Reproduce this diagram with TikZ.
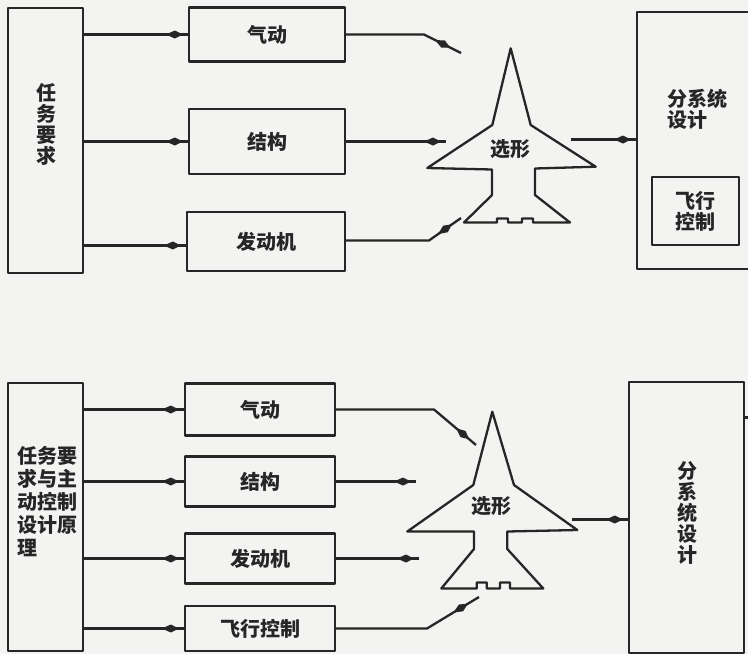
\documentclass[tikz,border=0pt]{standalone}
\usepackage{fontspec}
\newfontfamily\cjk{Noto Sans CJK SC}
\usetikzlibrary{decorations.markings}
\definecolor{inkc}{HTML}{262626}
\definecolor{paper}{HTML}{F3F3F1}

\tikzset{
  ink/.style={draw=inkc, line width=2.3pt, line join=round},
  lbl/.style={inner sep=0pt, text=inkc, font=\cjk\bfseries\fontsize{20}{21}\selectfont},
  blk/.style={ink, rectangle, lbl},
  flowto/.style={ink, postaction={decorate},
    decoration={markings, mark=at position #1 with
      {\fill[inkc] (-17pt,0pt) -- (-8pt,4pt) -- (0pt,0pt) -- (-8pt,-4pt) -- cycle;}}},
  flowto/.default=-5pt,
}

\begin{document}
\begin{tikzpicture}[x=1pt,y=-1pt]
\useasboundingbox (0,0) rectangle (748,654);
\fill[paper] (0,0) rectangle (748,654);
\clip (0,0) rectangle (748,654);

% ---------------- upper scheme ----------------
\node[blk, minimum width=75pt, minimum height=265pt] (req1) at (45.5,140.5) {};
\node[lbl, align=center] (req1t) at (46,124) {任\\务\\要\\求};

\node[blk, minimum width=156pt, minimum height=54pt] (aero1) at (267,34.5) {气动};
\node[blk, minimum width=156pt, minimum height=65pt] (struct1) at (267,141.5) {结构};
\node[blk, minimum width=158pt, minimum height=59pt] (eng1) at (266,241.5) {发动机};

\node[blk, minimum width=140pt, minimum height=257pt, anchor=north west] (sub1) at (636,11) {};
\node[lbl, align=left, anchor=west] (sub1t) at (667,109) {分系统\\设计};
\node[blk, minimum width=87pt, minimum height=68pt, align=center] (fc1) at (695.5,211) {飞行\\控制};

% inputs from the requirements block
\coordinate (e1in) at ([yshift=-4pt]eng1.west);
\draw[flowto] (req1.east |- aero1.west) -- (aero1.west);
\draw[flowto] (req1.east |- struct1.west) -- (struct1.west);
\draw[flowto] (req1.east |- e1in) -- (e1in);

% aircraft outline
\draw[ink, fill=paper] (510.7,48.3) -- (530.7,125) -- (595.7,166.7) -- (535,168.5)
  -- (535,195) -- (570,222.5) -- (533,222.5) -- (533,218.5) -- (522,218.5)
  -- (522,222.5) -- (508,222.5) -- (508,218.5) -- (497,218.5) -- (497,222.5)
  -- (464,222.5) -- (492,195) -- (492,169.5) -- (427.3,168) -- (492.3,125) -- cycle;
\node[lbl] (sel1) at (510,149) {选形};

% discipline outputs into the configuration
\coordinate (a1k) at (424,34.5);
\coordinate (a1e) at (461,53);
\draw[flowto=-12pt] (aero1.east) -- (a1k) -- (a1e);
\coordinate (s1e) at (446,141.5);
\draw[flowto] (struct1.east) -- (s1e);
\coordinate (e1k) at (429,240.5);
\coordinate (e1e) at (461,218);
\draw[flowto=-11pt] (eng1.east |- e1k) -- (e1k) -- (e1e);

\coordinate (j1out) at (571,139.5);
\draw[flowto] (j1out) -- (sub1.west |- j1out);

% ---------------- lower scheme ----------------
\node[blk, minimum width=75pt, minimum height=268pt] (req2) at (45.5,517) {};
\node[lbl, align=left, anchor=west, font=\cjk\bfseries\fontsize{20}{23}\selectfont]
  (req2t) at (17,501.5) {任务要\\求与主\\动控制\\设计原\\理};

\node[blk, minimum width=150pt, minimum height=52pt] (aero2) at (260,409.5) {气动};
\node[blk, minimum width=150pt, minimum height=50pt] (struct2) at (260,481.5) {结构};
\node[blk, minimum width=150pt, minimum height=50pt] (eng2) at (260,558.5) {发动机};
\node[blk, minimum width=150pt, minimum height=45pt] (fc2) at (260,628.5) {飞行控制};

\node[blk, minimum width=115pt, minimum height=271pt] (sub2) at (686.5,517.5) {};
\node[lbl, align=center] (sub2t) at (687,513) {分\\系\\统\\设\\计};

\draw[flowto] (req2.east |- aero2.west) -- (aero2.west);
\draw[flowto] (req2.east |- struct2.west) -- (struct2.west);
\draw[flowto] (req2.east |- eng2.west) -- (eng2.west);
\draw[flowto] (req2.east |- fc2.west) -- (fc2.west);

% aircraft outline
\draw[ink, fill=paper] (492.3,411.7) -- (514,485) -- (577.3,530) -- (507.3,531.5)
  -- (507.3,549) -- (543.3,588.5) -- (510,588.5) -- (510,582.5) -- (500,582.5)
  -- (500,588.5) -- (486.7,588.5) -- (486.7,582.5) -- (476.7,582.5) -- (476.7,588.5)
  -- (441.3,588.5) -- (474,549) -- (474,531.5) -- (407.3,531.5) -- (473.3,485) -- cycle;
\node[lbl] (sel2) at (491,506) {选形};

\coordinate (a2k) at (434,409.5);
\coordinate (a2e) at (476,445);
\draw[flowto=-9pt] (aero2.east) -- (a2k) -- (a2e);
\coordinate (s2e) at (416,481.5);
\draw[flowto] (struct2.east) -- (s2e);
\coordinate (e2e) at (419,558.5);
\draw[flowto] (eng2.east) -- (e2e);
\coordinate (f2k) at (427,628.5);
\coordinate (f2e) at (479,597);
\draw[flowto=-13pt] (fc2.east) -- (f2k) -- (f2e);

\coordinate (j2out) at (572,519.5);
\draw[flowto] (j2out) -- (sub2.west |- j2out);

\coordinate (s2o) at (752,417.5);
\draw[ink] (sub2.east |- s2o) -- (s2o);
\end{tikzpicture}
\end{document}
